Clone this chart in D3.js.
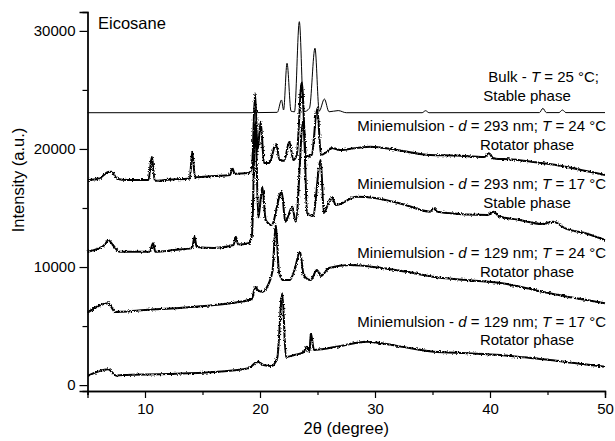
<!DOCTYPE html>
<html>
  <head>
    <meta charset="utf-8">
    <title>Eicosane XRD</title>
    <script type="text/javascript" src="https://d3js.org/d3.v7.min.js"></script>
    <style>
      body { margin: 0; background: #fff; }
      text { font-family: Arial, "Liberation Sans", sans-serif; fill: #000; }
    </style>
  </head>
  <body>
    <div id="chart"></div>
    <script type="text/javascript">
        // 2theta / intensity, one pair of arrays per pattern
        var bulkTheta = [5, 19.3, 19.6, 19.8, 21.5, 21.87, 22.05, 22.35, 22.7, 23.0, 23.42, 23.8, 24.3, 24.78, 25.15, 25.6, 26.0, 26.8, 27.5, 34.1, 34.4, 34.7, 44.3, 44.6, 44.9, 46.0, 46.3, 46.6, 50];
        var bulkInt   = [23070, 23070, 23250, 23080, 23100, 24150, 23300, 27260, 23200, 23150, 30780, 23150, 23450, 28530, 23200, 24230, 23150, 23250, 23070, 23070, 23240, 23070, 23080, 23440, 23080, 23080, 23300, 23080, 23080];

        var m293t24Theta = [5, 6.0, 6.8, 7.1, 7.6, 8.5, 10.3, 10.6, 10.85, 12, 13.9, 14.1, 14.35, 16, 17.4, 17.6, 17.8, 19.0, 19.3, 19.57, 19.8, 20.06, 20.35, 20.8, 21.4, 21.7, 22.1, 22.55, 22.9, 23.2, 23.63, 24.0, 24.5, 24.98, 25.3, 25.8, 26.2, 27, 28.5, 29.6, 32, 34.8, 37, 39.5, 39.9, 40.3, 42, 43.6, 46, 48, 50];
        var m293t24Int   = [17370, 17500, 18050, 18080, 17450, 17370, 17370, 19350, 17300, 17400, 17500, 19770, 17600, 17710, 17800, 18360, 17900, 17960, 18400, 24720, 19900, 22310, 18810, 18810, 20420, 19070, 19000, 20620, 19070, 19500, 25670, 19350, 19500, 23440, 19490, 19740, 20080, 19910, 20100, 20190, 19900, 19490, 19450, 19320, 19630, 19200, 19100, 18920, 18600, 18200, 17800];

        var m293t17Theta = [5, 6.5, 6.8, 7.2, 7.8, 10.4, 10.7, 10.9, 12.5, 14.1, 14.3, 14.5, 16, 17.7, 17.9, 18.1, 19.0, 19.3, 19.6, 19.85, 20.2, 20.5, 21.0, 21.89, 22.2, 22.81, 23.1, 23.77, 24.1, 24.6, 25.28, 25.55, 26.23, 26.6, 28.4, 30, 32.5, 34.8, 35.1, 35.4, 36, 39.8, 40.3, 40.8, 42.5, 44.5, 45.5, 46.5, 48.5, 50];
        var m293t17Int   = [11300, 11870, 12290, 11870, 11300, 11300, 12010, 11300, 11440, 11600, 12570, 11700, 11610, 11870, 12570, 11900, 12010, 12710, 22300, 14150, 16800, 13980, 13560, 16380, 13840, 15110, 13840, 22450, 14580, 14320, 19070, 14580, 15960, 15250, 15960, 15850, 15300, 14690, 15000, 14690, 14600, 14410, 14690, 14300, 14000, 13640, 13840, 13300, 12800, 12290];

        var m129t24Theta = [5, 6.8, 7.4, 8, 10, 13, 16, 19, 19.3, 19.6, 19.8, 20.2, 20.7, 21.1, 21.37, 21.65, 22.0, 22.6, 23.0, 23.48, 23.8, 24.4, 24.95, 25.3, 26, 27.8, 30.6, 33, 35, 38, 40.9, 43, 45.2, 47.5, 50];
        var m129t24Int   = [6130, 6930, 6200, 6220, 6360, 6530, 6780, 7210, 7300, 8330, 8050, 7890, 8480, 9750, 13650, 9580, 8900, 8900, 9750, 11300, 9330, 8900, 9750, 9240, 9920, 10170, 9920, 9550, 9180, 8900, 8650, 8250, 7780, 7350, 6930];

        var m129t17Theta = [5, 6.8, 7.5, 8, 12, 16, 19, 19.8, 20.3, 21.0, 21.5, 21.94, 22.25, 23, 23.8, 24.05, 24.3, 24.42, 24.7, 25.5, 26.65, 29.3, 32, 35.1, 38, 40.9, 43, 45.2, 47.5, 50];
        var m129t17Int   = [770, 1340, 800, 860, 940, 1110, 1420, 1980, 1700, 1620, 2300, 7780, 2380, 2550, 2800, 3250, 2800, 4390, 2970, 3060, 3250, 3680, 3300, 2830, 2700, 2550, 2350, 2130, 1850, 1560];

        var xTicks = [10, 20, 30, 40, 50];
        var yTicks = [0, 10000, 20000, 30000];

        var width = 615, height = 441;
        var svg = d3.select("#chart").append("svg")
            .attr("width", width)
            .attr("height", height)
            .style("background", "#fff");

        // grainy look for the measured patterns (style only)
        var filt = svg.append("defs").append("filter")
            .attr("id", "rough")
            .attr("x", "-2%").attr("y", "-10%")
            .attr("width", "104%").attr("height", "120%");
        filt.append("feTurbulence")
            .attr("type", "fractalNoise")
            .attr("baseFrequency", "0.7 0.7")
            .attr("numOctaves", 1)
            .attr("seed", 4)
            .attr("result", "noise");
        filt.append("feDisplacementMap")
            .attr("in", "SourceGraphic")
            .attr("in2", "noise")
            .attr("scale", 3.5)
            .attr("xChannelSelector", "R")
            .attr("yChannelSelector", "G");

        var x = d3.scaleLinear().domain([5, 50]).range([87.5, 605]);
        var y = d3.scaleLinear().domain([-500, 31600]).range([391, 12]);

        var line = d3.line()
            .x(function(d){ return x(d[0]); })
            .y(function(d){ return y(d[1]); })
            .curve(d3.curveMonotoneX);

        function pairs(t, v) {
            return t.map(function(d, i){ return [d, v[i]]; });
        }

        var patterns = [
            {data: pairs(bulkTheta, bulkInt), w: 1, rough: false},
            {data: pairs(m293t24Theta, m293t24Int), w: 2, rough: true},
            {data: pairs(m293t17Theta, m293t17Int), w: 2, rough: true},
            {data: pairs(m129t24Theta, m129t24Int), w: 2, rough: true},
            {data: pairs(m129t17Theta, m129t17Int), w: 2, rough: true}
        ];

        svg.selectAll("path.trace")
            .data(patterns)
            .enter()
            .append("path")
                .attr("class", "trace")
                .attr("d", function(d){ return line(d.data); })
                .attr("fill", "none")
                .attr("stroke", "#000")
                .attr("stroke-width", function(d){ return d.w; })
                .attr("stroke-linejoin", "round")
                .attr("filter", function(d){ return d.rough ? "url(#rough)" : null; });

        // axes
        svg.append("g")
            .attr("transform", "translate(0," + y.range()[0] + ")")
            .call(d3.axisBottom(x).tickValues(xTicks).tickSize(7).tickPadding(5).tickFormat(d3.format("d")));
        svg.append("g")
            .attr("transform", "translate(0," + y.range()[0] + ")")
            .call(d3.axisBottom(x).tickValues([5, 15, 25, 35, 45]).tickSize(4).tickFormat(""));
        svg.append("g")
            .attr("transform", "translate(" + x.range()[0] + ",0)")
            .call(d3.axisLeft(y).tickValues(yTicks).tickSize(8).tickPadding(4).tickFormat(d3.format("d")));
        svg.append("g")
            .attr("transform", "translate(" + x.range()[0] + ",0)")
            .call(d3.axisLeft(y).tickValues([5000, 15000, 25000]).tickSize(5).tickFormat(""));

        svg.selectAll(".domain").attr("stroke-width", 1.3);
        svg.selectAll(".tick line").attr("stroke-width", 1.2);
        svg.selectAll(".tick text").style("font-size", "15px").attr("fill", "#000");

        svg.append("text")
            .attr("x", x(27.5))
            .attr("y", 434)
            .attr("text-anchor", "middle")
            .style("font-size", "16.5px")
            .text("2θ (degree)");
        svg.append("text")
            .attr("transform", "translate(24,180) rotate(-90)")
            .attr("text-anchor", "middle")
            .style("font-size", "16.5px")
            .text("Intensity (a.u.)");
        svg.append("text")
            .attr("x", 98)
            .attr("y", 29)
            .style("font-size", "16.5px")
            .text("Eicosane");

        // labels: parts are [text, italic]
        var labels = [
            {y: 82,    parts: [["Bulk - ", 0], ["T", 1], [" = 25 °C;", 0]], x: 599},
            {y: 100.7, parts: [["Stable phase", 0]], x: 527, mid: true},
            {y: 130.7, parts: [["Miniemulsion - ", 0], ["d", 1], [" = 293 nm; ", 0], ["T", 1], [" = 24 °C", 0]], x: 606},
            {y: 150,   parts: [["Rotator phase", 0]], x: 527, mid: true},
            {y: 189.3, parts: [["Miniemulsion - ", 0], ["d", 1], [" = 293 nm; ", 0], ["T", 1], [" = 17 °C", 0]], x: 606},
            {y: 208.3, parts: [["Stable phase", 0]], x: 527, mid: true},
            {y: 258.3, parts: [["Miniemulsion - ", 0], ["d", 1], [" = 129 nm; ", 0], ["T", 1], [" = 24 °C", 0]], x: 606},
            {y: 276.7, parts: [["Rotator phase", 0]], x: 527, mid: true},
            {y: 326.7, parts: [["Miniemulsion - ", 0], ["d", 1], [" = 129 nm; ", 0], ["T", 1], [" = 17 °C", 0]], x: 606},
            {y: 345,   parts: [["Rotator phase", 0]], x: 527, mid: true}
        ];

        labels.forEach(function(l){
            var t = svg.append("text")
                .attr("x", l.x)
                .attr("y", l.y)
                .attr("text-anchor", l.mid ? "middle" : "end")
                .style("font-size", "15px");
            l.parts.forEach(function(p){
                t.append("tspan")
                    .style("font-style", p[1] ? "italic" : "normal")
                    .text(p[0]);
            });
        });
    </script>
  </body>
</html>
